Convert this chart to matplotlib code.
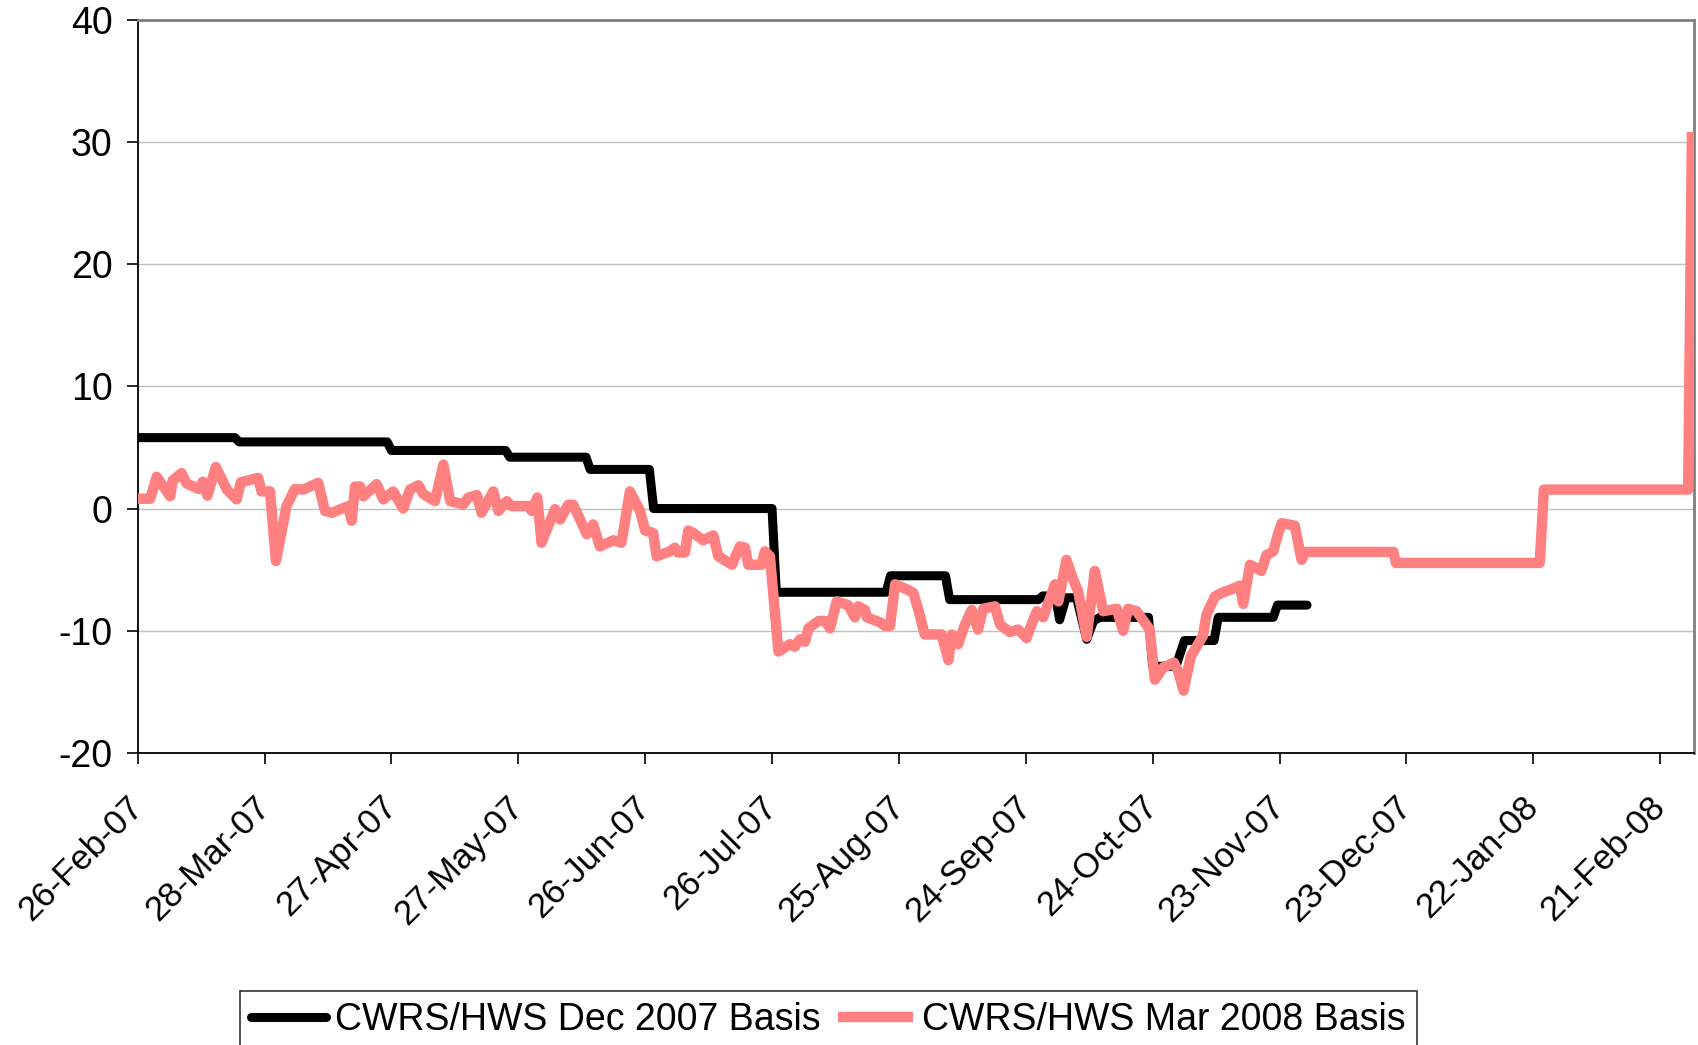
import datetime as dt
import numpy as np
import matplotlib
matplotlib.use("Agg")
import matplotlib.pyplot as plt
import matplotlib.dates as mdates

plt.rcParams['font.family'] = ['Liberation Sans', 'DejaVu Sans']
plt.rcParams['axes.unicode_minus'] = False

# day offsets counted from 26-Feb-07
start_date = dt.datetime(2007, 2, 26)

dec_days = [0, 23, 24, 59, 60, 87, 88, 106, 107, 121, 122, 150, 151, 177, 178,
            191, 192, 213, 214, 217, 218, 219.5, 222, 224.4, 226, 227.5, 239,
            240, 245.5, 247.5, 254.5, 255.5, 268.5, 269.5, 276.5]
dec_vals = [5.8, 5.8, 5.45, 5.45, 4.75, 4.75, 4.2, 4.2, 3.2, 3.2, 0.0, 0.0,
            -6.85, -6.85, -5.5, -5.5, -7.45, -7.45, -7.15, -7.15, -9.1, -7.3,
            -7.3, -10.7, -9.2, -8.9, -8.9, -12.9, -12.9, -10.8, -10.8, -8.9,
            -8.9, -7.9, -7.9]

mar_days = [0, 3, 4.5, 7.7, 8.3, 10.4, 11.6, 14.4, 15.4, 16.5, 18.5, 21.1, 23.4,
            24.4, 28.5, 29.3, 31.3, 32.7, 35.2, 37.2, 39.2, 42.7, 44.3, 45.9,
            49.8, 50.6, 51.4, 52.6, 53.4, 56.5, 58.1, 60.4, 62.8, 64.4, 66.4,
            67.5, 70.3, 72.3, 73.9, 77.0, 78.2, 80.2, 81.3, 84.1, 85.3, 87.3,
            88.4, 92.4, 93.2, 94.5, 95.5, 98.7, 99.9, 101.8, 103.0, 106.2,
            107.7, 109.3, 112.5, 114.4, 116.4, 118.8, 120.0, 121.9, 122.7,
            125.9, 127.0, 127.8, 129.4, 130.2, 131.4, 133.7, 136.1, 137.3,
            140.5, 142.4, 143.6, 144.4, 147.5, 148.3, 149.5, 151.5, 154.2,
            155.4, 156.6, 157.8, 158.6, 161.0, 162.5, 163.7, 165.3, 168.0,
            169.6, 170.4, 172.0, 172.4, 175.5, 176.7, 177.9, 179.1, 181.8,
            183.4, 184.6, 186.1, 190.1, 191.7, 192.5, 194.0, 195.6, 197.2,
            198.7, 199.9, 202.7, 203.9, 206.2, 208.2, 210.2, 211.0, 212.6,
            214.1, 216.9, 217.7, 219.6, 221.2, 222.4, 224.4, 226.3, 228.3,
            231.5, 233.0, 234.2, 236.2, 239.3, 240.5, 242.5, 245.0, 246.0,
            247.3, 249.0, 251.9, 252.7, 254.7, 256.3, 258.7, 260.6, 261.4,
            263.0, 265.7, 266.9, 268.5, 269.7, 270.5, 273.6, 275.2, 276.0,
            296.9, 297.5, 331.5, 332.5, 366.6, 367.5]
mar_vals = [0.8, 0.8, 2.6, 1.0, 2.3, 2.9, 2.05, 1.6, 2.2, 1.05, 3.4, 1.55, 0.75,
            2.15, 2.5, 1.4, 1.4, -4.3, 0.2, 1.6, 1.55, 2.1, -0.2, -0.35,
            0.2, -1.0, 1.8, 1.8, 1.0, 2.0, 0.75, 1.4, 0.0, 1.55, 1.9,
            1.2, 0.6, 3.6, 0.6, 0.35, 0.9, 1.1, -0.35, 1.4, -0.2, 0.6,
            0.2, 0.2, -0.2, 0.9, -2.8, -0.05, -0.9, 0.3, 0.3, -2.1,
            -1.3, -3.1, -2.6, -2.8, 1.4, -0.2, -1.8, -2.0, -3.9,
            -3.5, -3.2, -3.6, -3.6, -1.8, -2.0, -2.6, -2.2, -3.9,
            -4.6, -3.1, -3.2, -4.6, -4.6, -3.5, -3.9, -11.7, -11.1,
            -11.3, -10.7, -10.9, -9.8, -9.2, -9.2, -9.8, -7.6, -7.9,
            -8.9, -8.0, -8.3, -8.9, -9.3, -9.6, -9.6, -6.2, -6.6,
            -6.9, -8.3, -10.3, -10.3, -12.4, -10.3, -11.1, -9.5, -8.3,
            -9.9, -8.2, -8.0, -9.5, -10.1, -9.9, -10.6, -9.8, -8.4,
            -8.9, -6.2, -7.6, -4.2, -5.8, -6.8, -10.5, -5.1, -8.4,
            -8.2, -10.0, -8.2, -8.4, -9.9, -14.0, -13.0, -12.6, -13.3,
            -14.9, -12.1, -10.4, -8.7, -7.2, -6.9, -6.6, -6.3, -7.8,
            -4.6, -5.1, -3.8, -3.5, -2.0, -1.2, -1.4, -4.2, -3.55,
            -3.55, -4.45, -4.45, 1.55, 1.55, 30.8]

dec_label = "CWRS/HWS Dec 2007 Basis"
mar_label = "CWRS/HWS Mar 2008 Basis"

x0 = mdates.date2num(start_date)
dec_x = x0 + np.array(dec_days)
mar_x = x0 + np.array(mar_days)

fig = plt.figure(figsize=(16.99, 10.45), dpi=100)
ax = fig.add_axes([0.081, 0.2794, 0.9161, 0.7019])

ax.plot(dec_x, dec_vals, color='black', lw=6.5, solid_joinstyle='round',
        solid_capstyle='round', label=dec_label, zorder=3)
ax.plot(mar_x, mar_vals, color='#FF8080', lw=7.5, solid_joinstyle='round',
        solid_capstyle='butt', label=mar_label, zorder=4)

ax.set_xlim(x0, x0 + 368)
ax.set_ylim(-20, 40)
ax.set_yticks(range(-20, 41, 10))
ax.yaxis.grid(True, color='#C0C0C0', lw=1.0)
ax.set_axisbelow(True)

ax.set_xticks(x0 + np.arange(0, 361, 30))
ax.xaxis.set_major_formatter(mdates.DateFormatter('%d-%b-%y'))

for s in ['left', 'bottom']:
    ax.spines[s].set_color('black')
    ax.spines[s].set_linewidth(1.3)
for s in ['top', 'right']:
    ax.spines[s].set_color('#808080')
    ax.spines[s].set_linewidth(2)

ax.tick_params(axis='y', length=8, width=1.2, pad=10, labelsize=27)
ax.tick_params(axis='x', length=8, width=1.2, pad=27, labelsize=25)
for lab in ax.get_xticklabels():
    lab.set_rotation(45)
    lab.set_ha('right')
    lab.set_va('center')
    lab.set_rotation_mode('anchor')

leg = fig.legend(loc='upper center', bbox_to_anchor=(0.4875, 0.052), ncol=2,
                 fontsize=27, frameon=True, fancybox=False, handlelength=2.0,
                 handletextpad=0.25, columnspacing=0.45, borderpad=0.3,
                 borderaxespad=0)
leg.get_frame().set_edgecolor('black')
leg.get_frame().set_linewidth(1.2)

fig.savefig('out.png', dpi=100)
